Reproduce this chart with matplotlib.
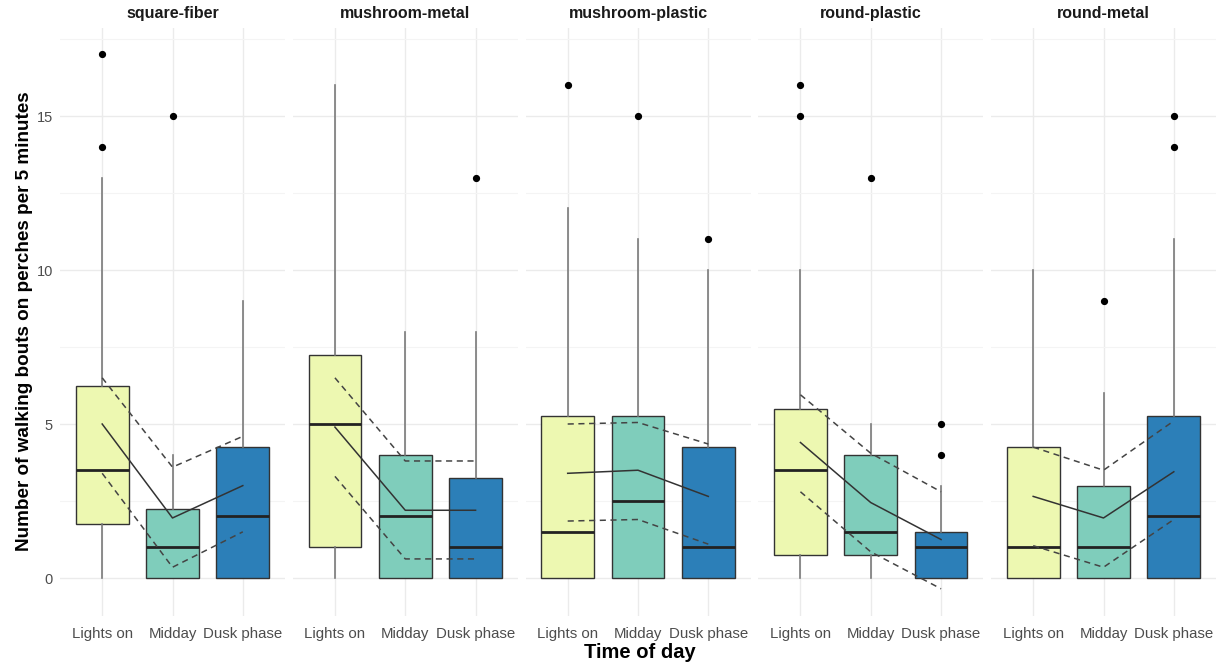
import matplotlib
matplotlib.use("Agg")
import matplotlib.pyplot as plt

plt.rcParams['font.family'] = ['Liberation Sans', 'DejaVu Sans']

panels = ["square-fiber", "mushroom-metal", "mushroom-plastic", "round-plastic", "round-metal"]
times = ["Lights on", "Midday", "Dusk phase"]
box_colors = ["#EDF8B1", "#7FCDBB", "#2C7FB8"]

q1 = [[1.75, 0, 0], [1, 0, 0], [0, 0, 0], [0.75, 0.75, 0], [0, 0, 0]]
med = [[3.5, 1, 2], [5, 2, 1], [1.5, 2.5, 1], [3.5, 1.5, 1], [1, 1, 2]]
q3 = [[6.25, 2.25, 4.25], [7.25, 4, 3.25], [5.25, 5.25, 4.25], [5.5, 4, 1.5], [4.25, 3, 5.25]]
whislo = [[0, 0, 0], [0, 0, 0], [0, 0, 0], [0, 0, 0], [0, 0, 0]]
whishi = [[13, 4, 9], [16, 8, 8], [12, 11, 10], [10, 5, 3], [10, 6, 11]]
fliers = [
    [[17, 14], [15], []],
    [[], [], [13]],
    [[16], [15], [11]],
    [[16, 15], [13], [5, 4]],
    [[], [9], [15, 14]],
]
mean_line = [[5.0, 1.95, 3.0], [4.9, 2.2, 2.2], [3.4, 3.5, 2.65], [4.4, 2.45, 1.25], [2.65, 1.95, 3.45]]
upper_line = [[6.5, 3.6, 4.6], [6.5, 3.8, 3.8], [5.0, 5.05, 4.35], [5.95, 4.05, 2.8], [4.25, 3.5, 5.1]]
lower_line = [[3.4, 0.35, 1.5], [3.3, 0.62, 0.62], [1.85, 1.9, 1.1], [2.8, 0.85, -0.35], [1.05, 0.35, 1.9]]

W, H = 1219, 666
fig = plt.figure(figsize=(W / 100, H / 100), dpi=100)

panel_w = 225.0
step = 232.75
left0 = 60.0
ax_bottom = (H - 615.6) / H
ax_height = (615.6 - 27.6) / H

grid_col = "#EBEBEB"
tick_col = "#4D4D4D"
xs = [1, 2, 3]

axes = []
for k, name in enumerate(panels):
    ax = fig.add_axes([(left0 + k * step) / W, ax_bottom, panel_w / W, ax_height])
    axes.append(ax)
    stats = []
    for j in range(3):
        stats.append(dict(q1=q1[k][j], med=med[k][j], q3=q3[k][j],
                          whislo=whislo[k][j], whishi=whishi[k][j],
                          fliers=fliers[k][j], label=times[j]))
    bp = ax.bxp(stats, positions=xs, widths=0.75, patch_artist=True,
                showcaps=False, manage_ticks=False,
                boxprops=dict(edgecolor="#333333", linewidth=1.0),
                whiskerprops=dict(color="#7A7A7A", linewidth=1.2),
                medianprops=dict(color="#222222", linewidth=2.0),
                flierprops=dict(marker="o", markerfacecolor="black",
                                markeredgecolor="black", markersize=4.2))
    for patch, c in zip(bp["boxes"], box_colors):
        patch.set_facecolor(c)
    for b in bp["boxes"]:
        b.set_zorder(2)
    for m in bp["medians"]:
        m.set_zorder(3)
    ax.plot(xs, mean_line[k], color="#333333", linewidth=1.1, zorder=4)
    ax.plot(xs, upper_line[k], color="#444444", linewidth=1.1, linestyle=(0, (4, 3)), zorder=4)
    ax.plot(xs, lower_line[k], color="#444444", linewidth=1.1, linestyle=(0, (4, 3)), zorder=4)

    ax.set_xlim(0.4, 3.6)
    ax.set_ylim(-1.22, 17.87)
    ax.set_xticks(xs)
    ax.set_xticklabels(times, fontsize=10.8, color=tick_col)
    ax.set_yticks([0, 5, 10, 15])
    ax.set_yticks([2.5, 7.5, 12.5, 17.5], minor=True)
    ax.grid(True, which="major", color=grid_col, linewidth=1.0, zorder=0)
    ax.grid(True, which="minor", axis="y", color="#F4F4F4", linewidth=0.8, zorder=0)
    ax.set_axisbelow(True)
    for s in ax.spines.values():
        s.set_visible(False)
    ax.tick_params(which="both", length=0)
    ax.tick_params(axis="x", pad=8)
    ax.tick_params(axis="y", pad=5)
    if k == 0:
        ax.set_yticklabels(["0", "5", "10", "15"], fontsize=10.5, color=tick_col)
    else:
        ax.set_yticklabels([])
    ax.set_title(name, fontsize=11.5, fontweight="bold", color="#1A1A1A", pad=7)

axes[0].set_ylabel("Number of walking bouts on perches per 5 minutes",
                   fontsize=13.6, fontweight="bold", labelpad=3)
fig.text(640 / W, 1 - 652 / H, "Time of day", ha="center", va="center",
         fontsize=14.5, fontweight="bold")

fig.savefig("out.png", dpi=100, facecolor="white")
